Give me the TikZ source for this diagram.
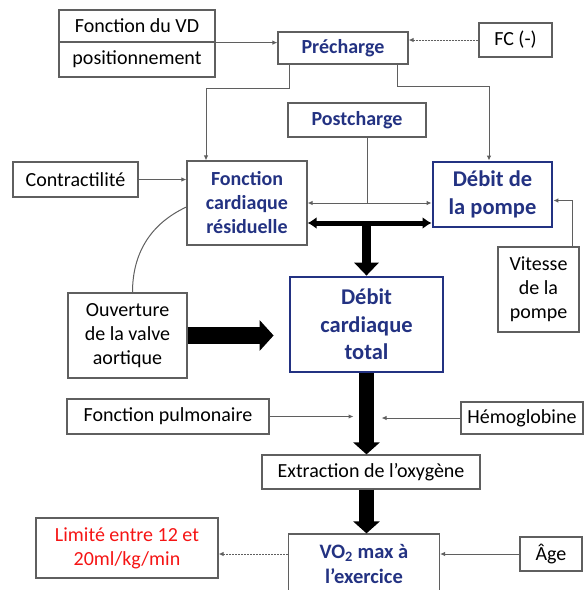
\documentclass[tikz,border=0pt]{standalone}
\usepackage{fontspec}
\setmainfont{Carlito}
\usepackage{tikz}
\usetikzlibrary{arrows.meta}
\definecolor{cardblue}{RGB}{35, 50, 130}
\definecolor{cardred}{RGB}{245, 20, 20}
\definecolor{cardgray}{RGB}{95, 95, 95}

\begin{document}
\begin{tikzpicture}[x=1pt, y=-1pt,
  box/.style={draw=cardgray, line width=1.2pt, inner sep=2pt, align=center, font=\fontsize{20}{24}\selectfont},
  bluebox/.style={box, text=cardblue, font=\fontsize{20}{24}\selectfont\bfseries},
  bigbox/.style={box, draw=cardblue, line width=2.8pt, text=cardblue, font=\fontsize{22.5}{27.5}\selectfont\bfseries},
  wire/.style={draw=cardgray, line width=1pt},
  link/.style={wire, -{Latex[length=5pt,width=4.5pt]}},
  dlink/.style={wire, {Latex[length=5pt,width=4.5pt]}-{Latex[length=5pt,width=4.5pt]}},
  dashlink/.style={link, dash pattern=on 2pt off 1pt},
  fatlink/.style={line width=5pt, {Latex[length=9pt,width=12pt]}-{Latex[length=9pt,width=12pt]}},
  bigflow/.style={line width=15pt, -{Triangle[length=12pt,width=26pt]}}]
\useasboundingbox (0,0) rectangle (586,590);
\clip (0,0) rectangle (586,590);

% Précharge
\node[box, minimum width=156, minimum height=32] (vd) at (137,26) {Fonction du VD};
\node[box, minimum width=156, minimum height=35] (pos) at (137,59.5) {positionnement};
\node[bluebox, minimum width=130, minimum height=32] (prech) at (343,48) {Précharge};
\node[box, minimum width=73, minimum height=34] (fc) at (515.5,40) {FC (-)};
\node[bluebox, minimum width=138, minimum height=34] (postch) at (357,120) {Postcharge};

% Coeur et pompe
\node[bluebox, minimum width=120, minimum height=84] (fcard) at (247,203) {Fonction\\cardiaque\\résiduelle};
\node[bigbox, minimum width=119, minimum height=65] (pompe) at (492.5,194.5) {Débit de\\la pompe};
\node[box, minimum width=125, minimum height=35] (contr) at (75.5,179.5) {Contractilité};
\node[box, minimum width=81, minimum height=85] (vitesse) at (538.5,289.5) {Vitesse\\de la\\pompe};
\node[box, minimum width=119, minimum height=85] (ouvert) at (127.5,335.5) {Ouverture\\de la valve\\aortique};
\node[bigbox, minimum width=153, minimum height=95] (dct) at (366.5,324.5) {Débit\\cardiaque\\total};

% Oxygène et VO2
\node[box, minimum width=202, minimum height=35] (pulm) at (168,416.5) {Fonction pulmonaire};
\node[box, minimum width=122, minimum height=32] (hemo) at (522,418) {Hémoglobine};
\node[box, minimum width=218, minimum height=34] (extr) at (371,472) {Extraction de l’oxygène};
\node[box, text=cardred, minimum width=182, minimum height=60] (lim) at (127,548) {Limité entre 12 et\\20ml/kg/min};
\node[bluebox, font=\fontsize{20.5}{24.5}\selectfont\bfseries, minimum width=151, minimum height=60] (vo2) at (364,564) {VO\textsubscript{2} max à\\l’exercice};
\node[box, minimum width=62, minimum height=34] (age) at (551,554) {Âge};

% liens du haut
\draw[link] (vd.south east) -- (vd.south east -| prech.west);
\draw[dashlink] (fc.west) -- (fc.west -| prech.east);
\draw[link] ([xshift=12pt]prech.south west) -- ++(0,24) -| ([xshift=-41pt]fcard.north);
\draw[link] ([xshift=-11pt]prech.south east) -- ++(0,22) -| ([xshift=-3.5pt]pompe.north);

% Postcharge et débits
\coordinate (join) at ([xshift=10pt]postch.south |- fcard.east);
\draw[wire] ([xshift=10pt]postch.south) -- (join);
\draw[dlink] (fcard.east) -- (fcard.east -| pompe.west);
\draw[fatlink] ([yshift=-20pt]fcard.east) -- ([yshift=-20pt]fcard.east -| pompe.west);
\draw[line width=9pt, -{Triangle[length=13pt,width=24pt]}] ([yshift=-20pt]fcard.east -| dct.north) -- (dct.north);
\draw[link] (contr.east) -- (contr.east -| fcard.west);
\draw[link] ([xshift=-7pt]vitesse.north east) |- ([yshift=-6pt]pompe.east);

% valve aortique
\draw[wire] ([xshift=5pt]ouvert.north) to[out=90, in=205] ([yshift=-4pt]fcard.west);
\draw[line width=17pt, -{Triangle[length=14pt,width=30pt]}] (ouvert.east) -- ([xshift=-15pt]dct.west |- ouvert.east);

% vers la VO2
\draw[bigflow] (dct.south) -- (dct.south |- extr.north);
\draw[link] (pulm.east) -- ([xshift=-13pt]pulm.east -| dct.south);
\draw[link] (hemo.west) -- ([xshift=15pt]hemo.west -| dct.south);
\draw[bigflow] (dct.south |- extr.south) -- (dct.south |- vo2.north);
\draw[link] (age.west) -- (age.west -| vo2.east);
\draw[dashlink] (age.west -| vo2.west) -- (age.west -| lim.east);
\end{tikzpicture}
\end{document}
